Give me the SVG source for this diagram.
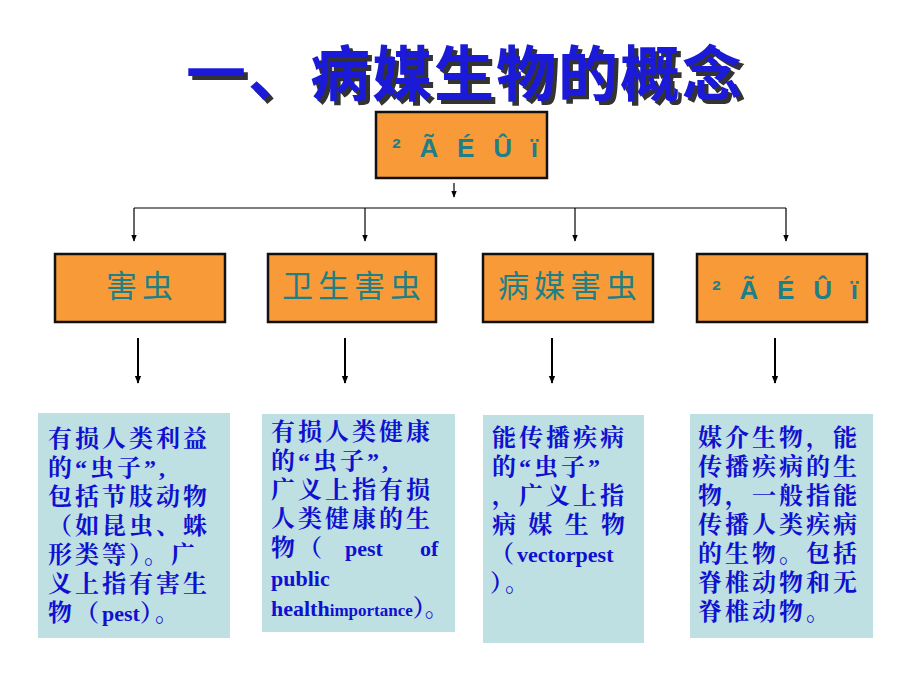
<svg xmlns="http://www.w3.org/2000/svg" width="920" height="690" viewBox="0 0 920 690">
<style>
.ob{fill:#f89a38;stroke:#111;stroke-width:2.5}
.ol{font-family:"Noto Sans CJK SC","Liberation Sans",sans-serif;font-size:31px;fill:#1f7f87;text-anchor:middle;letter-spacing:5px}
.tb{fill:#bfe0e3}
.t{font-family:"Liberation Serif","Noto Serif CJK SC","Noto Sans CJK SC",serif;font-weight:bold;font-size:24px;fill:#1010d0;letter-spacing:3px}
.e{letter-spacing:0;font-size:22px}
.ln{stroke:#000;stroke-width:1.2;fill:none}
.ln2{stroke:#000;stroke-width:2;fill:none}
</style>
<defs>
<marker id="a" viewBox="0 0 10 10" refX="9" refY="5" markerWidth="6" markerHeight="6" orient="auto"><path d="M0,1 L10,5 L0,9 Z" fill="#000"/></marker>
<marker id="b" viewBox="0 0 10 10" refX="9" refY="5" markerWidth="4" markerHeight="4" orient="auto"><path d="M0,1 L10,5 L0,9 Z" fill="#000"/></marker>
</defs>
<g id="title" font-family="Noto Sans CJK SC,sans-serif" font-weight="bold" font-size="60" text-anchor="middle" letter-spacing="2">
<text x="469" y="100" fill="#333">一、病媒生物的概念</text>
<text x="465" y="96" fill="#1a1ad8">一、病媒生物的概念</text>
</g>
<g id="connectors">
<line class="ln" x1="454" y1="183" x2="454" y2="197" marker-end="url(#a)"/>
<line class="ln" x1="134" y1="208" x2="786" y2="208"/>
<line class="ln" x1="134" y1="208" x2="134" y2="241" marker-end="url(#a)"/>
<line class="ln" x1="365" y1="208" x2="365" y2="241" marker-end="url(#a)"/>
<line class="ln" x1="575" y1="208" x2="575" y2="241" marker-end="url(#a)"/>
<line class="ln" x1="786" y1="208" x2="786" y2="241" marker-end="url(#a)"/>
<line class="ln2" x1="138" y1="338" x2="138" y2="383" marker-end="url(#b)"/>
<line class="ln2" x1="345" y1="338" x2="345" y2="383" marker-end="url(#b)"/>
<line class="ln2" x1="552" y1="338" x2="552" y2="383" marker-end="url(#b)"/>
<line class="ln2" x1="775" y1="338" x2="775" y2="383" marker-end="url(#b)"/>
</g>
<g id="top"><rect class="ob" x="376" y="112" width="171" height="66" stroke-width="3"/><text x="392" y="157" font-family="Liberation Sans,sans-serif" font-weight="bold" font-size="26" fill="#1f7f87" textLength="146" lengthAdjust="spacing">² Ã É Û ï</text></g>
<g id="n1"><rect class="ob" x="55" y="254" width="170" height="68"/><text class="ol" x="142" y="297">害虫</text></g>
<g id="n2"><rect class="ob" x="268" y="254" width="168" height="68"/><text class="ol" x="354" y="297">卫生害虫</text></g>
<g id="n3"><rect class="ob" x="483" y="254" width="170" height="68"/><text class="ol" x="570" y="297">病媒害虫</text></g>
<g id="n4"><rect class="ob" x="697" y="254" width="170" height="68"/><text x="712" y="299" font-family="Liberation Sans,sans-serif" font-weight="bold" font-size="26" fill="#1f7f87" textLength="146" lengthAdjust="spacing">² Ã É Û ï</text></g>
<g id="d1"><rect class="tb" x="38" y="413" width="192" height="225"/>
<text class="t" x="48" y="447">有损人类利益</text>
<text class="t" x="48" y="476">的“虫子”,</text>
<text class="t" x="48" y="505">包括节肢动物</text>
<text class="t" x="48" y="534">（如昆虫、蛛</text>
<text class="t" x="48" y="563">形类等）。广</text>
<text class="t" x="48" y="592">义上指有害生</text>
<text class="t" x="48" y="621">物（<tspan class="e">pest</tspan>）。</text></g>
<g id="d2"><rect class="tb" x="262" y="414" width="193" height="218"/>
<text class="t" x="271" y="440">有损人类健康</text>
<text class="t" x="271" y="469">的“虫子”,</text>
<text class="t" x="271" y="498">广义上指有损</text>
<text class="t" x="271" y="527">人类健康的生</text>
<text class="t" x="271" y="556">物（</text>
<text class="t e" x="345" y="556">pest</text>
<text class="t e" x="420" y="556">of</text>
<text class="t e" x="271" y="586">public</text>
<text class="t e" x="271" y="616">health<tspan font-size="17">importance</tspan><tspan font-size="24">）。</tspan></text></g>
<g id="d3"><rect class="tb" x="483" y="415" width="161" height="228"/>
<text class="t" x="492" y="446">能传播疾病</text>
<text class="t" x="492" y="475">的“虫子”</text>
<text class="t" x="492" y="504">，广义上指</text>
<text class="t" x="492" y="533" textLength="136" lengthAdjust="spacing">病媒生物</text>
<text class="t" x="490" y="562">（<tspan class="e">vectorpest</tspan></text>
<text class="t" x="490" y="591">）。</text></g>
<g id="d4"><rect class="tb" x="690" y="414" width="183" height="224"/>
<text class="t" x="698" y="446">媒介生物，能</text>
<text class="t" x="698" y="475">传播疾病的生</text>
<text class="t" x="698" y="504">物，一般指能</text>
<text class="t" x="698" y="533">传播人类疾病</text>
<text class="t" x="698" y="562">的生物。包括</text>
<text class="t" x="698" y="591">脊椎动物和无</text>
<text class="t" x="698" y="620">脊椎动物。</text></g>
</svg>
